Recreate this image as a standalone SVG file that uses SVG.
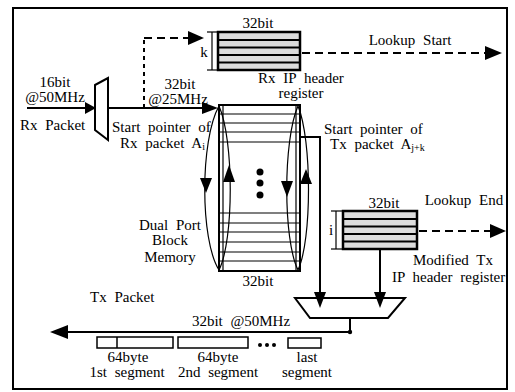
<svg xmlns="http://www.w3.org/2000/svg" width="515" height="392" viewBox="0 0 515 392">
<style>
text{font-family:"Liberation Serif","Times New Roman",serif;font-size:15px;fill:#000;word-spacing:4px}
.ln{stroke:#000;stroke-width:2;fill:none}
.th{stroke:#000;stroke-width:1.2;fill:none}
.ds{stroke:#000;stroke-width:2;fill:none;stroke-dasharray:8 5}
.ah{fill:#000;stroke:none}
.row{fill:#dcdcdc;stroke:none}
.bar{stroke:#000;stroke-width:2.2}
</style>
<rect x="13" y="8" width="494" height="381" fill="#fff" stroke="#000" stroke-width="2"/>

<g id="rx-mux">
<polygon points="95,85 108,78 108,140 95,130" fill="#fff" stroke="#000" stroke-width="2"/>
<text x="55" y="87" text-anchor="middle">16bit</text>
<text x="55" y="102" text-anchor="middle">@50MHz</text>
<text x="20" y="130">Rx Packet</text>
</g>

<g id="rx-register">
<rect x="218" y="32" width="82" height="38" class="row"/>
<line x1="218" y1="40" x2="300" y2="40" class="bar"/>
<line x1="218" y1="47.5" x2="300" y2="47.5" class="bar"/>
<line x1="218" y1="55" x2="300" y2="55" class="bar"/>
<line x1="218" y1="62.5" x2="300" y2="62.5" class="bar"/>
<rect x="218" y="32" width="82" height="38" fill="none" stroke="#000" stroke-width="2.5"/>
<line x1="212" y1="32" x2="212" y2="70" class="th"/>
<line x1="207" y1="32" x2="218" y2="32" class="th"/>
<line x1="207" y1="70" x2="218" y2="70" class="th"/>
<text x="204" y="57" text-anchor="middle">k</text>
<text x="258" y="28" text-anchor="middle">32bit</text>
<text x="301" y="83" text-anchor="middle">Rx IP header</text>
<text x="301" y="98" text-anchor="middle">register</text>
</g>

<g id="memory">
<rect x="219" y="105" width="81" height="166" fill="#fff" stroke="#000" stroke-width="2"/>
<line x1="223" y1="105" x2="223" y2="271" class="th"/>
<line x1="296" y1="105" x2="296" y2="271" class="th"/>
<g class="th">
<line x1="219" y1="114" x2="300" y2="114"/>
<line x1="219" y1="123" x2="300" y2="123"/>
<line x1="219" y1="132" x2="300" y2="132"/>
<line x1="219" y1="142" x2="300" y2="142"/>
<line x1="219" y1="213" x2="300" y2="213"/>
<line x1="219" y1="223" x2="300" y2="223"/>
<line x1="219" y1="232" x2="300" y2="232"/>
<line x1="219" y1="242" x2="300" y2="242"/>
<line x1="219" y1="252" x2="300" y2="252"/>
<line x1="219" y1="261" x2="300" y2="261"/>
</g>
<circle cx="260" cy="172" r="3.5"/>
<circle cx="260" cy="183" r="3.5"/>
<circle cx="260" cy="195" r="3.5"/>
<path d="M219,106 C200,140 200,240 219,270 C234,240 234,140 219,106" class="th"/>
<polygon points="200,178 212,178 206,193" class="ah"/>
<polygon points="223,182 235,182 229,165" class="ah"/>
<path d="M298,106 C283,140 283,240 298,270 C312,240 312,140 298,106" class="th"/>
<polygon points="281,181 293,181 287,197" class="ah"/>
<polygon points="300,184 312,184 306,169" class="ah"/>
<text x="258" y="286" text-anchor="middle">32bit</text>
<text x="170" y="230" text-anchor="middle">Dual Port</text>
<text x="170" y="245" text-anchor="middle">Block</text>
<text x="170" y="262" text-anchor="middle">Memory</text>
</g>

<g id="tx-register">
<rect x="343" y="211" width="74" height="38" class="row"/>
<line x1="343" y1="219" x2="417" y2="219" class="bar"/>
<line x1="343" y1="226.5" x2="417" y2="226.5" class="bar"/>
<line x1="343" y1="234" x2="417" y2="234" class="bar"/>
<line x1="343" y1="241.5" x2="417" y2="241.5" class="bar"/>
<rect x="343" y="211" width="74" height="38" fill="none" stroke="#000" stroke-width="2.5"/>
<line x1="336" y1="211" x2="336" y2="249" class="th"/>
<line x1="331" y1="211" x2="343" y2="211" class="th"/>
<line x1="331" y1="249" x2="343" y2="249" class="th"/>
<text x="331" y="235" text-anchor="middle">i</text>
<text x="384" y="208" text-anchor="middle">32bit</text>
<text x="453" y="265" text-anchor="middle">Modified Tx</text>
<text x="392" y="282">IP header register</text>
</g>

<g id="tx-mux">
<polygon points="295,298 405,298 388,318 310,318" fill="#fff" stroke="#000" stroke-width="2"/>
</g>

<g id="segments">
<rect x="97" y="337" width="76" height="11" fill="#fff" stroke="#000" stroke-width="1.5"/>
<line x1="117" y1="337" x2="117" y2="348" stroke="#000" stroke-width="1.5"/>
<rect x="178" y="337" width="70" height="11" fill="#fff" stroke="#000" stroke-width="1.5"/>
<rect x="288" y="338" width="33" height="10" fill="#fff" stroke="#000" stroke-width="1.5"/>
<circle cx="260" cy="345" r="2"/>
<circle cx="267" cy="345" r="2"/>
<circle cx="274" cy="345" r="2"/>
<text x="128" y="362" text-anchor="middle">64byte</text>
<text x="127" y="377" text-anchor="middle">1st segment</text>
<text x="218" y="362" text-anchor="middle">64byte</text>
<text x="218" y="377" text-anchor="middle">2nd segment</text>
<text x="307" y="362" text-anchor="middle">last</text>
<text x="307" y="377" text-anchor="middle">segment</text>
</g>

<g id="connectors">
<line x1="27" y1="108" x2="86" y2="108" class="ln"/>
<polygon points="85,102 96,108 85,114" class="ah"/>
<line x1="108" y1="108" x2="203" y2="108" class="ln"/>
<polygon points="202,102 218,108 202,114" class="ah"/>
<line x1="144" y1="108" x2="144" y2="38" stroke="#000" stroke-width="2" stroke-dasharray="4 4"/>
<line x1="144" y1="38" x2="189" y2="38" class="ds"/>
<polygon points="188,31 204,38 188,45" class="ah"/>
<line x1="302" y1="53" x2="486" y2="53" class="ds"/>
<polygon points="485,46 502,53 485,60" class="ah"/>
<line x1="419" y1="231" x2="491" y2="231" class="ds"/>
<polygon points="490,224 506,231 490,238" class="ah"/>
<polyline points="300,137 320,137 320,294" class="ln"/>
<polygon points="314,292 326,292 320,308" class="ah"/>
<line x1="380" y1="249" x2="380" y2="294" class="ln"/>
<polygon points="374,292 386,292 380,308" class="ah"/>
<polyline points="350,318 350,332 66,332" class="ln"/>
<circle cx="350" cy="332" r="2.2"/>
<polygon points="68,325 50,332 68,339" class="ah"/>
<text x="112" y="132">Start pointer of</text>
<text x="120" y="148">Rx packet A<tspan font-size="10" dy="2">i</tspan></text>
<text x="324" y="134">Start pointer of</text>
<text x="330" y="149">Tx packet A<tspan font-size="10" dy="2">j+k</tspan></text>
<text x="410" y="45" text-anchor="middle">Lookup Start</text>
<text x="464" y="205" text-anchor="middle">Lookup End</text>
<text x="90" y="302">Tx Packet</text>
<text x="241" y="326" text-anchor="middle">32bit @50MHz</text>
<text x="180" y="89" text-anchor="middle">32bit</text>
<text x="178" y="104" text-anchor="middle">@25MHz</text>
</g>
</svg>
